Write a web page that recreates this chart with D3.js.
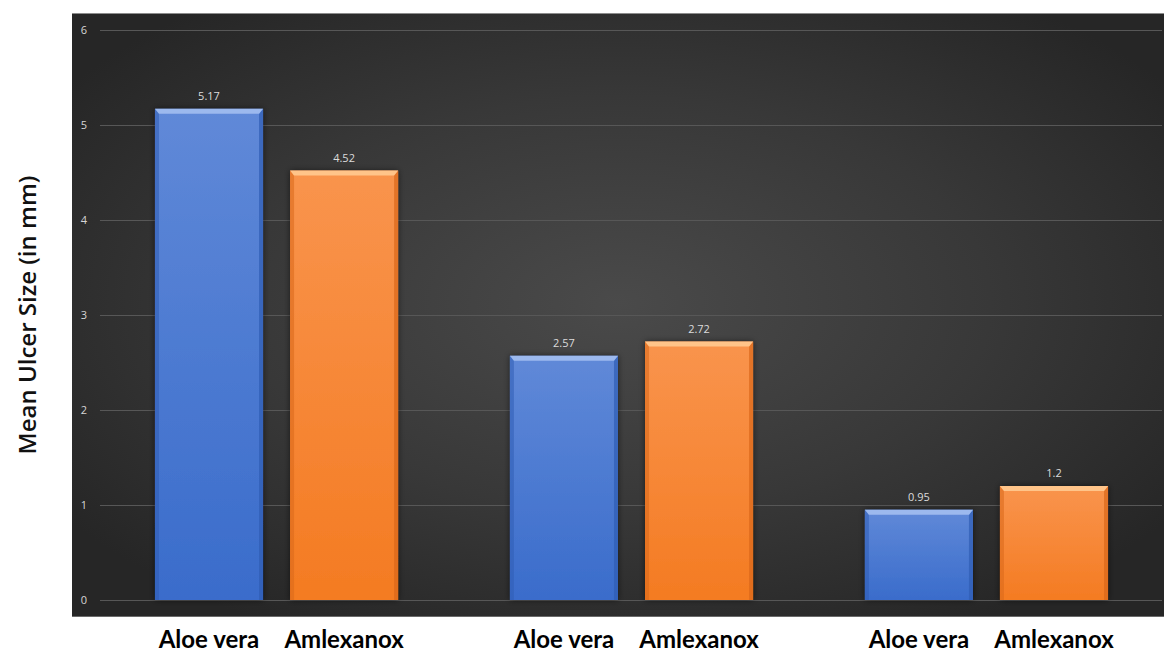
<!DOCTYPE html>
<html>
<head>
<meta charset="utf-8">
<script src="https://cdn.jsdelivr.net/npm/d3@7/dist/d3.min.js"></script>
<style>
  html, body { margin: 0; padding: 0; background: #ffffff; }
  svg { display: block; }
</style>
</head>
<body>
<svg id="chart" width="1164" height="655"></svg>
<script>
// Mean ulcer size per treatment, three assessment points
const groups = ["g1", "g2", "g3"];
const treatments = ["Aloe vera", "Amlexanox"];
const aloeVera = [5.17, 2.57, 0.95];
const amlexanox = [4.52, 2.72, 1.2];
const yTicks = [0, 1, 2, 3, 4, 5, 6];
const yTitle = "Mean Ulcer Size (in mm)";

const rows = groups.map((g, i) => ({
  group: g,
  values: [
    { key: treatments[0], value: aloeVera[i] },
    { key: treatments[1], value: amlexanox[i] }
  ]
}));

const svg = d3.select("#chart");
const plot = { left: 72, top: 13, right: 1164, bottom: 617 };

const defs = svg.append("defs");

// dark radial backdrop
const bg = defs.append("radialGradient").attr("id", "bgGrad")
  .attr("cx", "50%").attr("cy", "48%").attr("r", "62%");
bg.append("stop").attr("offset", "0%").attr("stop-color", "#4a4a4a");
bg.append("stop").attr("offset", "55%").attr("stop-color", "#383838");
bg.append("stop").attr("offset", "100%").attr("stop-color", "#262626");

// bar fills
const fills = {
  "Aloe vera": { top: "#6089d8", bottom: "#3a6ccb", bevel: "#9cb9ee", side: "#2f5cb4" },
  "Amlexanox": { top: "#f9944d", bottom: "#f47b22", bevel: "#ffc489", side: "#d9671a" }
};
Object.entries(fills).forEach(([k, c], i) => {
  const g = defs.append("linearGradient").attr("id", "barGrad" + i)
    .attr("x1", 0).attr("y1", 0).attr("x2", 0).attr("y2", 1);
  g.append("stop").attr("offset", "0%").attr("stop-color", c.top);
  g.append("stop").attr("offset", "100%").attr("stop-color", c.bottom);
  c.id = "barGrad" + i;
});

const shadow = defs.append("filter").attr("id", "barShadow")
  .attr("x", "-20%").attr("y", "-20%").attr("width", "140%").attr("height", "140%");
shadow.append("feDropShadow").attr("dx", 0).attr("dy", 0)
  .attr("stdDeviation", 3).attr("flood-color", "#000").attr("flood-opacity", 0.55);

// plot background
svg.append("rect")
  .attr("x", plot.left).attr("y", plot.top)
  .attr("width", plot.right - plot.left).attr("height", plot.bottom - plot.top)
  .attr("fill", "url(#bgGrad)");
svg.append("line")
  .attr("x1", plot.left).attr("x2", plot.right)
  .attr("y1", plot.top + 0.5).attr("y2", plot.top + 0.5)
  .attr("stroke", "#8c8c8c").attr("stroke-width", 1);
svg.append("line")
  .attr("x1", plot.left).attr("x2", plot.right)
  .attr("y1", plot.bottom - 0.5).attr("y2", plot.bottom - 0.5)
  .attr("stroke", "#6a6a6a").attr("stroke-width", 1);

// scales
const y = d3.scaleLinear().domain([0, 6]).range([600, 30]);
const x0 = d3.scaleBand().domain(groups).range([99, 1164])
  .paddingInner(0.315).paddingOuter(0.1577);
const x1 = d3.scaleBand().domain(treatments).range([0, x0.bandwidth()])
  .paddingInner(0.2).paddingOuter(0);

// tick labels
const yAxis = d3.axisLeft(y).tickValues(yTicks).tickSize(0).tickPadding(0)
  .tickFormat(d3.format("d"));
const axisG = svg.append("g").attr("transform", "translate(84,0)").call(yAxis);
axisG.select(".domain").remove();
axisG.selectAll("text")
  .attr("text-anchor", "middle")
  .attr("fill", "#d6d6d6")
  .style("font-family", "'Open Sans', sans-serif")
  .style("font-size", "11px");

// gridlines
svg.append("g").selectAll("line").data(yTicks).join("line")
  .attr("x1", 100).attr("x2", 1162)
  .attr("y1", d => Math.round(y(d)) + 0.5).attr("y2", d => Math.round(y(d)) + 0.5)
  .attr("stroke", "#575757").attr("stroke-width", 1);

// bars
const gGroups = svg.append("g").selectAll("g").data(rows).join("g")
  .attr("transform", d => `translate(${x0(d.group)},0)`);

const bar = gGroups.selectAll("g.bar").data(d => d.values).join("g")
  .attr("class", "bar");

bar.each(function (d) {
  const g = d3.select(this);
  const c = fills[d.key];
  const bx = x1(d.key), bw = x1.bandwidth();
  const top = y(d.value), bottom = y(0);
  const bev = 5, side = 4;

  g.append("rect")
    .attr("x", bx).attr("y", top).attr("width", bw).attr("height", bottom - top)
    .attr("fill", `url(#${c.id})`)
    .attr("filter", "url(#barShadow)");
  // side bevels
  g.append("path")
    .attr("d", `M${bx},${top} L${bx + side},${top + bev} L${bx + side},${bottom} L${bx},${bottom} Z`)
    .attr("fill", c.side).attr("opacity", 0.55);
  g.append("path")
    .attr("d", `M${bx + bw},${top} L${bx + bw - side},${top + bev} L${bx + bw - side},${bottom} L${bx + bw},${bottom} Z`)
    .attr("fill", c.side).attr("opacity", 0.7);
  // top bevel
  g.append("path")
    .attr("d", `M${bx},${top} L${bx + bw},${top} L${bx + bw - side},${top + bev} L${bx + side},${top + bev} Z`)
    .attr("fill", c.bevel);

  // value label
  g.append("text")
    .attr("x", bx + bw / 2).attr("y", top - 9)
    .attr("text-anchor", "middle")
    .attr("fill", "#dcdcdc")
    .style("font-family", "'Open Sans', sans-serif")
    .style("font-size", "11px")
    .text(d.value);

  // category label
  g.append("text")
    .attr("x", bx + bw / 2).attr("y", 648)
    .attr("text-anchor", "middle")
    .attr("fill", "#000")
    .style("font-family", "Lato, sans-serif")
    .style("font-weight", "700")
    .style("font-size", "24px")
    .text(d.key);
});

// y-axis title
svg.append("text")
  .attr("transform", `translate(36,${(plot.top + plot.bottom) / 2}) rotate(-90)`)
  .attr("text-anchor", "middle")
  .attr("fill", "#111")
  .style("font-family", "'Open Sans', sans-serif")
  .style("font-weight", "600")
  .style("font-size", "24px")
  .text(yTitle);
</script>
</body>
</html>
